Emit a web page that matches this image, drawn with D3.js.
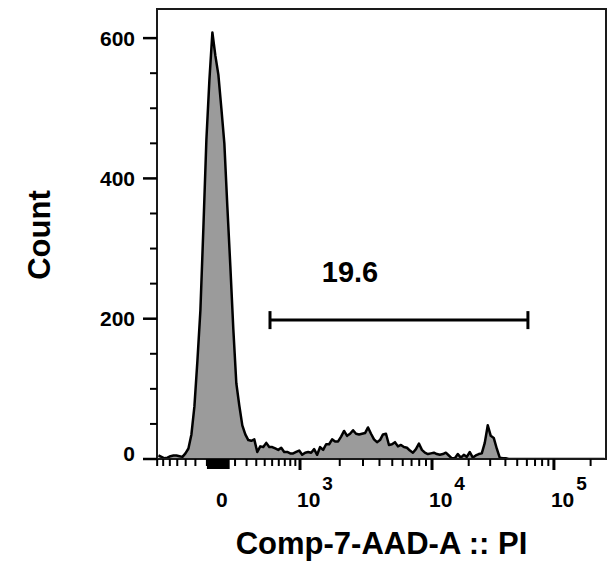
<!DOCTYPE html>
<html>
<head>
<meta charset="utf-8">
<script src="https://cdn.jsdelivr.net/npm/d3@7"></script>
<style>
  html, body { margin: 0; padding: 0; background: #fff; }
  svg { display: block; }
  text { font-family: "Liberation Sans", Arial, sans-serif; font-weight: bold; fill: #000; }
</style>
</head>
<body>
<svg id="chart" width="609" height="562"></svg>
<script>
// ---------- data ----------
// histogram counts, uniform bins across the display (channel) range
const counts = [
  5, 3, 1, 2, 4, 5, 5, 4, 3, 8,
  15, 35, 75, 140, 212, 330, 455, 540, 608, 575,
  548, 500, 450, 360, 275, 185, 108, 76, 48, 35,
  27, 26, 28, 10, 18, 17, 23, 17, 17, 15,
  13, 16, 10, 10, 8, 8, 10, 12, 6, 9,
  10, 9, 14, 6, 17, 13, 21, 21, 28, 25,
  25, 32, 40, 33, 36, 41, 36, 35, 36, 37,
  45, 36, 28, 24, 27, 35, 36, 20, 21, 24,
  18, 20, 17, 16, 12, 9, 14, 22, 13, 9,
  7, 8, 9, 7, 6, 7, 9, 5, 1, 1,
  7, 2, 6, 3, 10, 2, 5, 7, 8, 23,
  48, 33, 30, 15, 2, 1, 1, 0, 0, 0,
  0, 0, 0, 0, 0, 0, 0, 0, 0, 0,
  0, 0, 0, 0, 0, 0, 0, 0, 0, 0,
  0, 0, 0, 0, 0, 0, 0, 0, 0, 0
];
const yMajorTicks = [0, 200, 400, 600];
const yMinorTicks = [50, 100, 150, 250, 300, 350, 450, 500, 550];
const xMajorTicks = [1e3, 1e4, 1e5];
const xMinorTicks = [-700, -600, -500, -400, -300, -200, -100,
  100, 200, 300, 400, 500, 600, 700, 800, 900,
  2e3, 3e3, 4e3, 5e3, 6e3, 7e3, 8e3, 9e3,
  2e4, 3e4, 4e4, 5e4, 6e4, 7e4, 8e4, 9e4, 2e5];
const xZeroTicks = [-90, -80, -70, -60, -50, -40, -30, -20, -10, 0, 10, 20, 30, 40, 50];
const xTickLabels = [
  { value: 0, base: "0", exp: "" },
  { value: 1e3, base: "10", exp: "3" },
  { value: 1e4, base: "10", exp: "4" },
  { value: 1e5, base: "10", exp: "5" }
];
const gate = { low: 470, high: 61200, level: 198, label: "19.6" };
const xTitle = "Comp-7-AAD-A :: PI";
const yTitle = "Count";

// ---------- layout ----------
const W = 609, H = 562;
const plot = { left: 157, right: 606, top: 9, bottom: 459 };
const pw = plot.right - plot.left;

const svg = d3.select("#chart");
svg.append("rect").attr("width", W).attr("height", H).attr("fill", "#fff");

// biexponential-like display scale: symlog near zero, log above 10^3
const xSym = d3.scaleSymlog().constant(400).domain([0, 1e3])
  .range([plot.left + pw * 0.1425, plot.left + pw * 0.3185]);
const xLog = d3.scaleLog().domain([1e3, 1e4, 1e5])
  .range([plot.left + pw * 0.3185, plot.left + pw * 0.6125, plot.left + pw * 0.884]);
const x = v => (v < 1e3 ? xSym(v) : xLog(v));

// channel scale used by the histogram bins
const ch = d3.scaleLinear().domain([0, counts.length]).range([plot.left, plot.right]);
const y = d3.scaleLinear().domain([0, 641.5]).range([plot.bottom, plot.top]);

// clip
svg.append("clipPath").attr("id", "clip").append("rect")
  .attr("x", plot.left).attr("y", plot.top)
  .attr("width", pw).attr("height", plot.bottom - plot.top);

const pts = counts.map((c, i) => [i + 0.5, c]);
const area = d3.area().x(d => ch(d[0])).y0(y(0)).y1(d => y(d[1]));
const line = d3.line().x(d => ch(d[0])).y(d => y(d[1]));

const g = svg.append("g").attr("clip-path", "url(#clip)");
g.append("path").datum(pts).attr("d", area).attr("fill", "#9b9b9b");
g.append("path").datum(pts).attr("d", line)
  .attr("fill", "none").attr("stroke", "#000").attr("stroke-width", 2.5)
  .attr("stroke-linejoin", "round");

// frame
svg.append("rect").attr("x", plot.left).attr("y", plot.top)
  .attr("width", pw).attr("height", plot.bottom - plot.top)
  .attr("fill", "none").attr("stroke", "#1a1a1a").attr("stroke-width", 2);

// y axis ticks
const yt = svg.append("g");
yt.selectAll(".ymaj").data(yMajorTicks).join("line")
  .attr("x1", plot.left - 14).attr("x2", plot.left)
  .attr("y1", d => y(d)).attr("y2", d => y(d))
  .attr("stroke", "#000").attr("stroke-width", 2.5);
yt.selectAll(".ymin").data(yMinorTicks).join("line")
  .attr("x1", plot.left - 7).attr("x2", plot.left)
  .attr("y1", d => y(d)).attr("y2", d => y(d))
  .attr("stroke", "#000").attr("stroke-width", 2);
yt.selectAll(".ylab").data(yMajorTicks).join("text")
  .attr("x", plot.left - 22)
  .attr("y", d => Math.min(y(d), plot.bottom - 6))
  .attr("dy", "0.36em")
  .attr("text-anchor", "end")
  .attr("font-size", 21)
  .text(d => d);

// x axis ticks
const xt = svg.append("g");
xt.selectAll(".xmin").data(xMinorTicks).join("line")
  .attr("x1", d => x(d)).attr("x2", d => x(d))
  .attr("y1", plot.bottom).attr("y2", plot.bottom + 7)
  .attr("stroke", "#000").attr("stroke-width", 2);
xt.selectAll(".xzero").data(xZeroTicks).join("line")
  .attr("x1", d => x(d)).attr("x2", d => x(d))
  .attr("y1", plot.bottom).attr("y2", plot.bottom + 10)
  .attr("stroke", "#000").attr("stroke-width", 2.5);
xt.selectAll(".xmaj").data(xMajorTicks).join("line")
  .attr("x1", d => x(d)).attr("x2", d => x(d))
  .attr("y1", plot.bottom).attr("y2", plot.bottom + 11)
  .attr("stroke", "#000").attr("stroke-width", 3);

const lab = xt.selectAll(".xlab").data(xTickLabels).join("text")
  .attr("x", d => x(d.value) + (d.exp ? -3 : -5))
  .attr("y", plot.bottom + 48)
  .attr("font-size", 21);
lab.append("tspan").text(d => d.base);
lab.filter(d => d.exp).append("tspan")
  .attr("dx", 2).attr("dy", -17).attr("font-size", 19).text(d => d.exp);

// gate
const gy = y(gate.level);
const gg = svg.append("g").attr("stroke", "#000").attr("stroke-width", 3);
gg.append("line").attr("x1", x(gate.low)).attr("x2", x(gate.high)).attr("y1", gy).attr("y2", gy);
gg.append("line").attr("x1", x(gate.low)).attr("x2", x(gate.low)).attr("y1", gy - 9).attr("y2", gy + 9);
gg.append("line").attr("x1", x(gate.high)).attr("x2", x(gate.high)).attr("y1", gy - 9).attr("y2", gy + 9);
svg.append("text")
  .attr("x", x(gate.low) + 80).attr("y", gy - 38)
  .attr("text-anchor", "middle").attr("font-size", 29)
  .text(gate.label);

// titles
svg.append("text")
  .attr("x", (plot.left + plot.right) / 2).attr("y", 554)
  .attr("text-anchor", "middle").attr("font-size", 31)
  .text(xTitle);
svg.append("text")
  .attr("transform", `translate(50, ${(plot.top + plot.bottom) / 2 + 1}) rotate(-90)`)
  .attr("text-anchor", "middle").attr("font-size", 31)
  .text(yTitle);
</script>
</body>
</html>
